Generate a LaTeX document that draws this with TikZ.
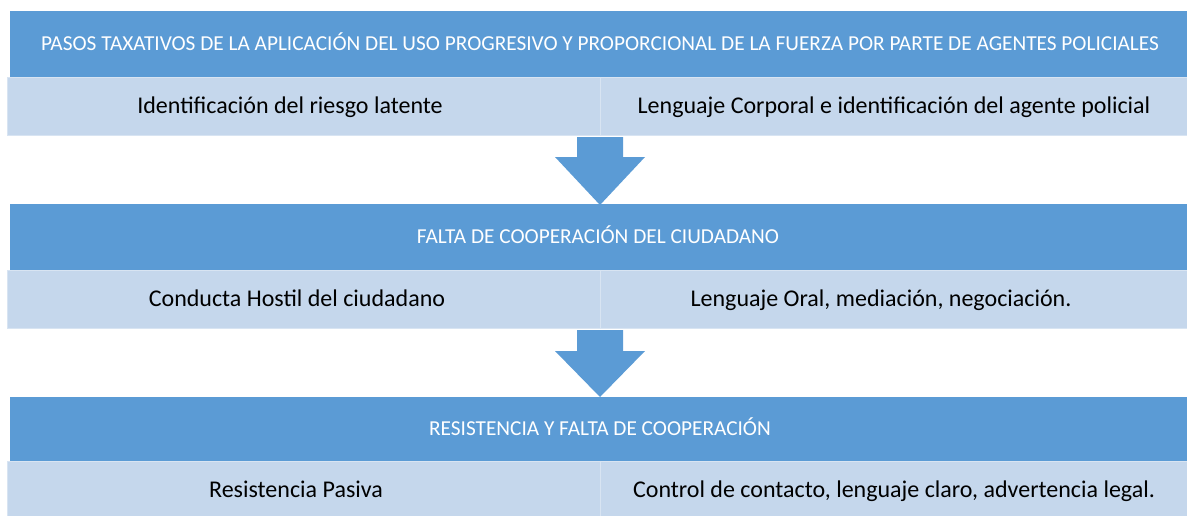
\documentclass[tikz,border=0pt]{standalone}
\usepackage{fontspec}
\setmainfont{Carlito}
\definecolor{hdr}{HTML}{5B9BD5}
\definecolor{cell}{HTML}{C5D7EC}
\definecolor{cellline}{HTML}{D8E4F2}
\begin{document}
\begin{tikzpicture}[x=1pt,y=-1pt,
  hdrbox/.style={fill=hdr,draw=none},
  cellbox/.style={fill=cell,draw=cellline,line width=0.8pt},
  hdrtext/.style={anchor=base,inner sep=0pt,text=white,font=\fontsize{21.3}{24}\selectfont},
  celltext/.style={anchor=base,inner sep=0pt,text=black,font=\fontsize{24}{28}\selectfont},
  blockarrow/.style={fill=hdr,draw=none}]
\useasboundingbox (0,0) rectangle (1187,515);
% section 1
\path[hdrbox] (10,11) rectangle (1188,77);
\node[hdrtext] (h1) at (600,50) {PASOS TAXATIVOS DE LA APLICACIÓN DEL USO PROGRESIVO Y PROPORCIONAL DE LA FUERZA POR PARTE DE AGENTES POLICIALES};
\path[cellbox] (7,77) rectangle (600,135);
\path[cellbox] (600,77) rectangle (1190,135);
\node[celltext] (c1l) at (290,113.3) {Identificación del riesgo latente};
\node[celltext] (c1r) at (894,113.3) {Lenguaje Corporal e identificación del agente policial};
\path[blockarrow] (577,137) -- (623,137) -- (623,157) -- (645,157) -- (600,205) -- (555,157) -- (577,157) -- cycle;
% section 2
\path[hdrbox] (10,204) rectangle (1188,270);
\node[hdrtext] (h2) at (598,243) {FALTA DE COOPERACIÓN DEL CIUDADANO};
\path[cellbox] (7,270) rectangle (600,328);
\path[cellbox] (600,270) rectangle (1190,328);
\node[celltext] (c2l) at (297,306.3) {Conducta Hostil del ciudadano};
\node[celltext] (c2r) at (881,306.3) {Lenguaje Oral, mediación, negociación.};
\path[blockarrow] (577,330) -- (623,330) -- (623,351) -- (645,351) -- (600,397) -- (555,351) -- (577,351) -- cycle;
% section 3
\path[hdrbox] (10,397) rectangle (1188,461);
\node[hdrtext] (h3) at (600,435.5) {RESISTENCIA Y FALTA DE COOPERACIÓN};
\path[cellbox] (7,461) rectangle (600,518);
\path[cellbox] (600,461) rectangle (1190,518);
\node[celltext] (c3l) at (296,497) {Resistencia Pasiva};
\node[celltext] (c3r) at (894,497) {Control de contacto, lenguaje claro, advertencia legal.};
\end{tikzpicture}
\end{document}
